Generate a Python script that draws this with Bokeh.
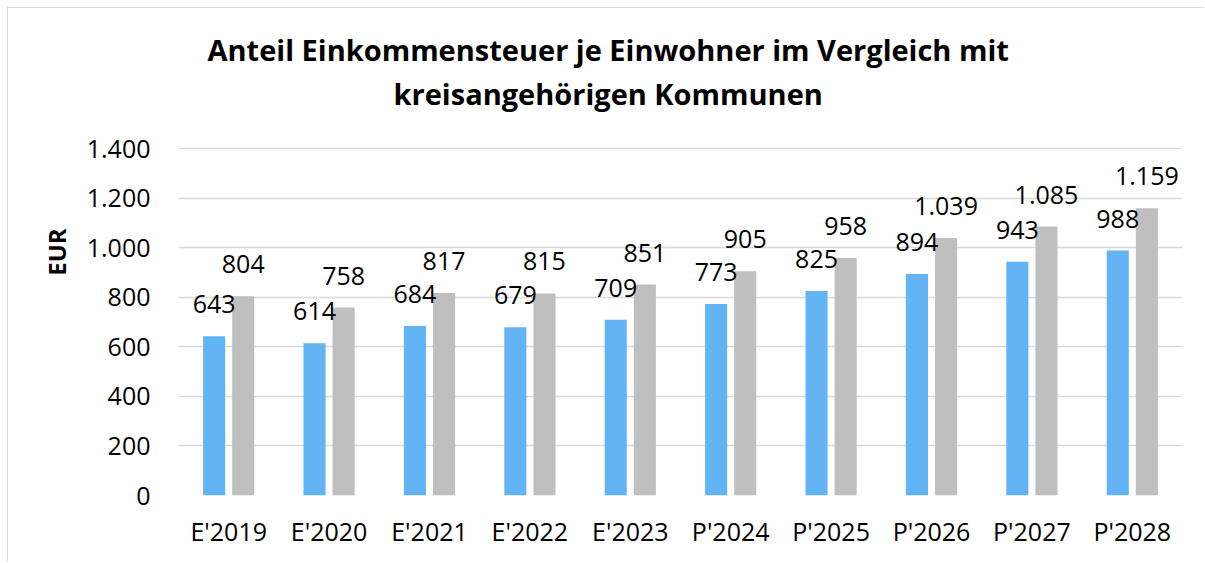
from bokeh.plotting import figure
from bokeh.models import ColumnDataSource, Range1d, FixedTicker, CustomJSTickFormatter, Label
from bokeh.transform import dodge
from bokeh.core.properties import value
from bokeh.embed import file_html
from bokeh.resources import INLINE

categories = ["E'2019", "E'2020", "E'2021", "E'2022", "E'2023",
              "P'2024", "P'2025", "P'2026", "P'2027", "P'2028"]
gemeinde = [643, 614, 684, 679, 709, 773, 825, 894, 943, 988]
kreis = [804, 758, 817, 815, 851, 905, 958, 1039, 1085, 1159]
y_ticks = [0, 200, 400, 600, 800, 1000, 1200, 1400]
title_lines = ["Anteil Einkommensteuer je Einwohner im Vergleich mit",
               "kreisangehörigen Kommunen"]
y_label = "EUR"


def de_fmt(v):
    return f"{v:,}".replace(",", ".")


src = ColumnDataSource(dict(
    cat=categories,
    g=gemeinde,
    k=kreis,
    g_txt=[de_fmt(v) for v in gemeinde],
    k_txt=[de_fmt(v) for v in kreis],
))

FONT = "Open Sans"
W, H = 1197, 554
AXIS_MAX = y_ticks[-1]
PLOT_TOP = 140      # px from figure top where the axis maximum sits
PLOT_BOTTOM = 487   # px from figure top where 0 sits
px_per_unit = (PLOT_BOTTOM - PLOT_TOP) / AXIS_MAX
# the frame extends to the top of the figure so the title can live inside it
range_top = AXIS_MAX + PLOT_TOP / px_per_unit

p = figure(x_range=categories, y_range=Range1d(0, range_top),
           width=W, height=H, output_backend="svg", toolbar_location=None,
           min_border_left=170, min_border_right=W - 1174, min_border_top=0,
           min_border_bottom=H - PLOT_BOTTOM)
p.styles = {"margin-top": "7px", "margin-left": "7px",
            "border-top": "1px solid #D9D9D9", "border-left": "1px solid #D9D9D9"}
p.outline_line_color = None
p.background_fill_color = "white"
p.border_fill_color = "white"

BLUE = "#63B4F5"
GRAY = "#BFBFBF"
OFF = 0.145
BW = 0.22

p.vbar(x=dodge("cat", -OFF, range=p.x_range), top="g", width=BW, source=src,
       fill_color=BLUE, line_color=None)
p.vbar(x=dodge("cat", OFF, range=p.x_range), top="k", width=BW, source=src,
       fill_color=GRAY, line_color=None)

p.text(x=dodge("cat", -OFF, range=p.x_range), y="g", text="g_txt", source=src,
       text_align="center", text_baseline="alphabetic", y_offset=-32,
       text_font=value(FONT), text_font_size="25px", text_color="black")
p.text(x=dodge("cat", OFF, range=p.x_range), y="k", text="k_txt", source=src,
       text_align="center", text_baseline="alphabetic", y_offset=-32,
       text_font=value(FONT), text_font_size="25px", text_color="black")

# axes
p.xgrid.grid_line_color = None
p.ygrid.grid_line_color = "#D9D9D9"
p.ygrid.grid_line_width = 1.3
p.yaxis.ticker = FixedTicker(ticks=y_ticks)
p.yaxis.formatter = CustomJSTickFormatter(
    code="return tick.toString().replace(/\\B(?=(\\d{3})+(?!\\d))/g, '.');")
for ax in (p.xaxis[0], p.yaxis[0]):
    ax.axis_line_color = None
    ax.major_tick_line_color = None
    ax.minor_tick_line_color = None
    ax.major_tick_out = 0
    ax.major_tick_in = 0
    ax.minor_tick_out = 0
    ax.major_label_text_font = FONT
    ax.major_label_text_font_size = "25px"
    ax.major_label_text_color = "black"
p.yaxis.major_label_standoff = 28
p.xaxis.major_label_standoff = 18
p.yaxis.axis_label = y_label
p.yaxis.axis_label_text_font = FONT
p.yaxis.axis_label_text_font_style = "bold"
p.yaxis.axis_label_text_font_size = "24px"
p.yaxis.axis_label_text_color = "black"
p.yaxis.axis_label_standoff = 11

# title (two centered lines)
for txt, above_px in zip(title_lines, [99, 55]):
    p.add_layout(Label(x=4.28, y=AXIS_MAX + above_px / px_per_unit,
                       text=txt, text_align="center", text_baseline="alphabetic",
                       text_font=FONT, text_font_style="bold",
                       text_font_size="29px", text_color="black"))

open("out.html", "w").write(file_html(p, INLINE))
